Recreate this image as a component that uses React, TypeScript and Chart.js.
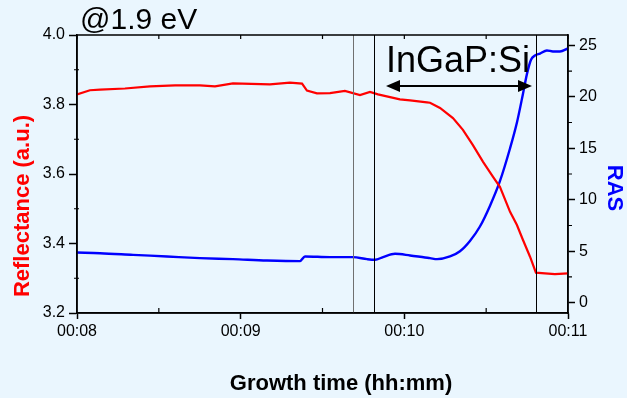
import React, { useEffect, useRef } from "react";
import { Chart, registerables } from "chart.js";

Chart.register(...registerables);

// Growth time in minutes (00:08 = 8)
const reflTime = [
  8.0, 8.079, 8.141, 8.293, 8.446, 8.599, 8.751, 8.843, 8.953, 9.179, 9.301, 9.375, 9.405,
  9.466, 9.546, 9.637, 9.729, 9.79, 9.839, 9.973, 10.035, 10.138, 10.157, 10.218, 10.297,
  10.358, 10.419, 10.481, 10.542, 10.584, 10.646, 10.688, 10.725, 10.768, 10.804, 10.859,
  10.92, 11.0,
];
const reflectance = [
  3.829, 3.841, 3.843, 3.846, 3.852, 3.855, 3.855, 3.852, 3.861, 3.858, 3.863, 3.86, 3.84,
  3.832, 3.833, 3.839, 3.827, 3.836, 3.829, 3.815, 3.812, 3.806, 3.805, 3.79, 3.761,
  3.727, 3.683, 3.635, 3.592, 3.563, 3.491, 3.453, 3.41, 3.362, 3.316, 3.314,
  3.312, 3.314,
];
const rasTime = [
  8.0, 8.141, 8.342, 8.55, 8.751, 8.953, 9.161, 9.362, 9.393, 9.546, 9.686, 9.772, 9.821,
  9.87, 9.943, 10.035, 10.126, 10.157, 10.2, 10.279, 10.34, 10.401, 10.462, 10.523, 10.584,
  10.646, 10.688, 10.725, 10.749, 10.774, 10.798, 10.829, 10.871, 10.908, 10.951, 11.0,
];
const ras = [
  4.87, 4.81, 4.65, 4.49, 4.33, 4.23, 4.1, 4.04, 4.49, 4.43, 4.43, 4.23, 4.17,
  4.43, 4.75, 4.59, 4.39, 4.33, 4.23, 4.49, 5.0, 6.0, 7.4, 9.4, 11.8,
  15.0, 17.5, 20.3, 22.2, 23.6, 24.0, 24.2, 24.5, 24.4, 24.4, 24.7,
];

const xTicks = [8, 9, 10, 11];
const xTickLabels = ["00:08", "00:09", "00:10", "00:11"];
const xMinorTicks = [8.5, 9.5, 10.5];
const reflTicks = [3.2, 3.4, 3.6, 3.8, 4.0];
const reflMinorTicks = [3.3, 3.5, 3.7, 3.9];
const rasTicks = [0, 5, 10, 15, 20, 25];
const rasMinorTicks = [2.5, 7.5, 12.5, 17.5, 22.5];

const markerTimes = [9.686, 9.814, 10.804];
const layerSpan = [9.888, 10.78]; // InGaP:Si arrow (minutes)
const layerArrowLevel = 3.853; // reflectance units
const layerLabelLevel = 3.894;

const titleText = "@1.9 eV";
const layerText = "InGaP:Si";
const xTitle = "Growth time (hh:mm)";
const yLeftTitle = "Reflectance (a.u.)";
const yRightTitle = "RAS";

const BG = "#EAF6FE";
const FONT = "'Liberation Sans', Arial, Helvetica, sans-serif";

const decorPlugin = {
  id: "decor",
  beforeDraw(chart: any) {
    const { ctx, width, height } = chart;
    ctx.save();
    ctx.fillStyle = BG;
    ctx.fillRect(0, 0, width, height);
    ctx.restore();
  },
  afterDatasetsDraw(chart: any) {
    const { ctx, chartArea: a, scales } = chart;
    const x = scales.x;
    const yL = scales.yL;
    const yR = scales.yR;
    ctx.save();
    // marker lines
    markerTimes.forEach((t, i) => {
      const px = Math.round(x.getPixelForValue(t)) + 0.5;
      ctx.strokeStyle = i === 0 ? "#707070" : "#000000";
      ctx.lineWidth = 1;
      ctx.beginPath();
      ctx.moveTo(px, a.top);
      ctx.lineTo(px, a.bottom);
      ctx.stroke();
    });
    // frame
    ctx.strokeStyle = "#000";
    ctx.lineWidth = 1.5;
    ctx.strokeRect(a.left, a.top, a.right - a.left, a.bottom - a.top);
    // minor / inner ticks
    ctx.lineWidth = 1.2;
    ctx.beginPath();
    xMinorTicks.forEach((t) => {
      const px = x.getPixelForValue(t);
      ctx.moveTo(px, a.bottom);
      ctx.lineTo(px, a.bottom - 5);
    });
    [...xTicks, ...xMinorTicks].forEach((t) => {
      const px = x.getPixelForValue(t);
      ctx.moveTo(px, a.top);
      ctx.lineTo(px, a.top + 4);
    });
    reflMinorTicks.forEach((v) => {
      const py = yL.getPixelForValue(v);
      ctx.moveTo(a.left - 3, py);
      ctx.lineTo(a.left + 2, py);
    });
    rasMinorTicks.forEach((v) => {
      const py = yR.getPixelForValue(v);
      ctx.moveTo(a.right, py);
      ctx.lineTo(a.right + 4, py);
    });
    ctx.stroke();

    // arrow
    const x1 = x.getPixelForValue(layerSpan[0]);
    const x2 = x.getPixelForValue(layerSpan[1]);
    const ay = yL.getPixelForValue(layerArrowLevel);
    const head = 14;
    const hw = 6;
    ctx.strokeStyle = "#000";
    ctx.fillStyle = "#000";
    ctx.lineWidth = 2;
    ctx.beginPath();
    ctx.moveTo(x1 + head - 2, ay);
    ctx.lineTo(x2 - head + 2, ay);
    ctx.stroke();
    ctx.beginPath();
    ctx.moveTo(x1, ay);
    ctx.lineTo(x1 + head, ay - hw);
    ctx.lineTo(x1 + head, ay + hw);
    ctx.closePath();
    ctx.fill();
    ctx.beginPath();
    ctx.moveTo(x2, ay);
    ctx.lineTo(x2 - head, ay - hw);
    ctx.lineTo(x2 - head, ay + hw);
    ctx.closePath();
    ctx.fill();

    // layer label
    ctx.font = `36px ${FONT}`;
    ctx.textAlign = "left";
    ctx.textBaseline = "alphabetic";
    ctx.fillText(layerText, x1, yL.getPixelForValue(layerLabelLevel));
    ctx.restore();
  },
  afterDraw(chart: any) {
    const { ctx, chartArea: a } = chart;
    ctx.save();
    ctx.textBaseline = "alphabetic";
    // title
    ctx.fillStyle = "#000";
    ctx.font = `30px ${FONT}`;
    ctx.textAlign = "left";
    ctx.fillText(titleText, a.left + 3, a.top - 6);
    // x title
    ctx.font = `bold 22px ${FONT}`;
    ctx.textAlign = "center";
    ctx.fillText(xTitle, 341, 390);
    // left title
    ctx.save();
    ctx.translate(29, 206);
    ctx.rotate(-Math.PI / 2);
    ctx.fillStyle = "#FF0000";
    ctx.fillText(yLeftTitle, 0, 0);
    ctx.restore();
    // right title
    ctx.save();
    ctx.translate(608, 188);
    ctx.rotate(Math.PI / 2);
    ctx.fillStyle = "#0000FF";
    ctx.fillText(yRightTitle, 0, 0);
    ctx.restore();
    ctx.restore();
  },
};

export default function App() {
  const canvasRef = useRef<HTMLCanvasElement | null>(null);

  useEffect(() => {
    const canvas = canvasRef.current;
    if (!canvas) return;
    const tickFont = { family: FONT, size: 16 };
    const chart = new Chart(canvas, {
      type: "line",
      data: {
        datasets: [
          {
            label: "Reflectance",
            data: reflTime.map((t, i) => ({ x: t, y: reflectance[i] })),
            borderColor: "#FF0000",
            borderWidth: 2.2,
            pointRadius: 0,
            tension: 0,
            yAxisID: "yL",
          },
          {
            label: "RAS",
            data: rasTime.map((t, i) => ({ x: t, y: ras[i] })),
            borderColor: "#0000FF",
            borderWidth: 2.4,
            pointRadius: 0,
            cubicInterpolationMode: "monotone",
            yAxisID: "yR",
          },
        ],
      },
      options: {
        animation: false,
        responsive: false,
        maintainAspectRatio: false,
        layout: { padding: { top: 35, left: 0, right: 0, bottom: 0 } },
        plugins: { legend: { display: false }, tooltip: { enabled: false } },
        scales: {
          x: {
            type: "linear",
            position: "bottom",
            min: 8,
            max: 11,
            afterBuildTicks: (s: any) => {
              s.ticks = xTicks.map((value) => ({ value }));
            },
            afterFit: (s: any) => {
              s.height = 85;
            },
            ticks: {
              color: "#000",
              font: tickFont,
              padding: 3,
              maxRotation: 0,
              autoSkip: false,
              callback: (v: any) => xTickLabels[xTicks.indexOf(Number(v))] ?? "",
            },
            grid: { drawOnChartArea: false, drawTicks: true, tickLength: 6, tickColor: "#000", tickWidth: 1.5 },
            border: { display: true, color: "#000", width: 1.5 },
          },
          yL: {
            type: "linear",
            position: "left",
            min: 3.2,
            max: 4.0,
            afterBuildTicks: (s: any) => {
              s.ticks = reflTicks.map((value) => ({ value }));
            },
            afterFit: (s: any) => {
              s.width = 77;
            },
            ticks: {
              color: "#000",
              font: tickFont,
              padding: 4,
              callback: (v: any) => Number(v).toFixed(1),
            },
            grid: { drawOnChartArea: false, drawTicks: true, tickLength: 8, tickColor: "#000", tickWidth: 1.5 },
            border: { display: true, color: "#000", width: 1.5 },
          },
          yR: {
            type: "linear",
            position: "right",
            min: -1,
            max: 26,
            afterBuildTicks: (s: any) => {
              s.ticks = rasTicks.map((value) => ({ value }));
            },
            afterFit: (s: any) => {
              s.width = 59;
            },
            ticks: {
              color: "#000",
              font: tickFont,
              padding: 4,
              callback: (v: any) => String(v),
            },
            grid: { drawOnChartArea: false, drawTicks: true, tickLength: 7, tickColor: "#000", tickWidth: 1.5 },
            border: { display: true, color: "#000", width: 1.5 },
          },
        },
      },
      plugins: [decorPlugin],
    } as any);
    return () => chart.destroy();
  }, []);

  return (
    <div style={{ position: "absolute", left: 0, top: 0, width: 627, height: 398, background: BG }}>
      <canvas ref={canvasRef} width={627} height={398} style={{ display: "block", width: 627, height: 398 }} />
    </div>
  );
}
